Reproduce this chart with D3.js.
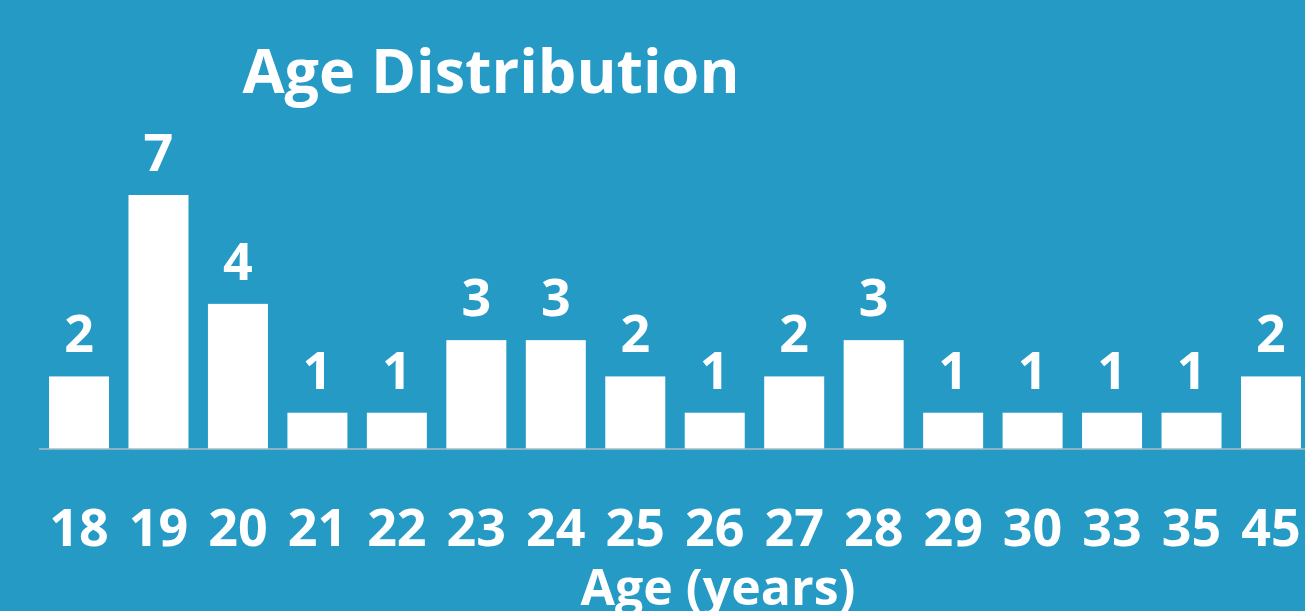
<!DOCTYPE html>
<html>
<head>
<meta charset="utf-8">
<script src="https://cdn.jsdelivr.net/npm/d3@7"></script>
<style>
  html, body { margin: 0; padding: 0; background: #249ac5; }
  svg text { font-family: "Open Sans", "Noto Sans", sans-serif; font-weight: bold; fill: #fff; }
</style>
</head>
<body>
<div id="chart"></div>
<script>
const ages = ["18", "19", "20", "21", "22", "23", "24", "25", "26", "27", "28", "29", "30", "33", "35", "45"];
const counts = [2, 7, 4, 1, 1, 3, 3, 2, 1, 2, 3, 1, 1, 1, 1, 2];
const chartTitle = "Age Distribution";
const xTitle = "Age (years)";

const width = 1305, height = 611;
const baseline = 449;

const svg = d3.select("#chart")
  .append("svg")
  .attr("width", width)
  .attr("height", height);

svg.append("rect")
  .attr("width", width)
  .attr("height", height)
  .attr("fill", "#249ac5");

const x = d3.scaleBand()
  .domain(ages)
  .range([39, 1311])
  .paddingInner(0.245)
  .paddingOuter(0.126);

const y = d3.scaleLinear()
  .domain([0, 7])
  .range([baseline, 195]);

svg.selectAll("rect.bar")
  .data(ages)
  .enter()
  .append("rect")
  .attr("class", "bar")
  .attr("x", (d) => x(d))
  .attr("y", (d, i) => y(counts[i]))
  .attr("width", x.bandwidth())
  .attr("height", (d, i) => baseline - y(counts[i]))
  .attr("fill", "#fff");

svg.selectAll("text.val")
  .data(ages)
  .enter()
  .append("text")
  .attr("class", "val")
  .attr("x", (d) => x(d) + x.bandwidth() / 2)
  .attr("y", (d, i) => y(counts[i]) - 24)
  .attr("text-anchor", "middle")
  .style("font-size", "52px")
  .text((d, i) => counts[i]);

// x axis
const xAxis = d3.axisBottom(x).tickSize(0).tickPadding(0);
const xg = svg.append("g")
  .attr("transform", `translate(0,${baseline})`)
  .call(xAxis);

xg.select(".domain")
  .attr("d", `M39,0H${width}`)
  .attr("stroke", "#a9bcc6")
  .attr("stroke-width", 1.5);

xg.selectAll(".tick text")
  .attr("dy", null)
  .attr("y", 97)
  .style("font-size", "52px")
  .style("font-family", "'Open Sans', 'Noto Sans', sans-serif")
  .style("font-weight", "bold")
  .attr("fill", "#fff");

svg.append("text")
  .attr("x", 491)
  .attr("y", 93)
  .attr("text-anchor", "middle")
  .style("font-size", "61px")
  .text(chartTitle);

svg.append("text")
  .attr("x", 718)
  .attr("y", 605)
  .attr("text-anchor", "middle")
  .style("font-size", "50px")
  .text(xTitle);
</script>
</body>
</html>
